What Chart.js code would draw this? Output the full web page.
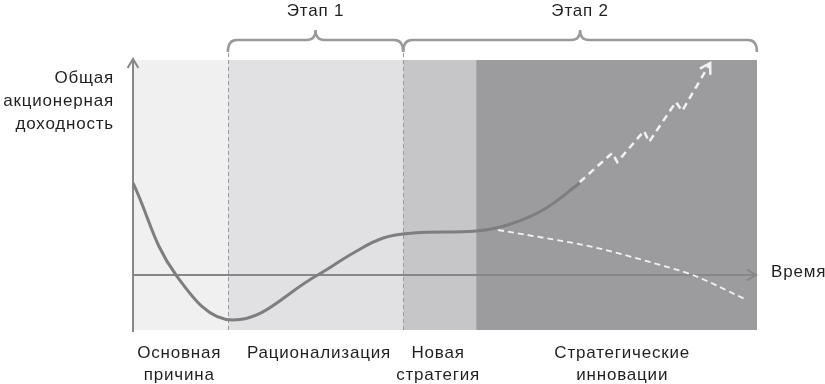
<!DOCTYPE html>
<html>
<head>
<meta charset="utf-8">
<script src="https://cdn.jsdelivr.net/npm/chart.js@4"></script>
<style>
  html, body { margin: 0; padding: 0; background: #fff; overflow: hidden; }
  #wrap { width: 825px; height: 384px; }
</style>
</head>
<body>
<div id="wrap"><canvas id="tsrChart" width="825" height="384"></canvas></div>
<script>
// Phases along the time axis (x in % of time span)
const bandEdges = [0, 15.2, 43.3, 55, 100];
const bandColors = ['#f0f0f0', '#e1e1e3', '#c6c6c8', '#9c9c9e'];
const phaseLabels = [['Основная', 'причина'], ['Рационализация'], ['Новая', 'стратегия'], ['Стратегические', 'инновации']];
const phaseLabelX = [7.4, 29.8, 48.9, 78.4];

const stages = ['Этап 1', 'Этап 2'];
const stageFrom = [15.2, 43.3];
const stageTo = [43.3, 100];

const yTitle = ['Общая', 'акционерная', 'доходность'];
const xTitle = 'Время';

// Total shareholder return curve
const mainX = [0, 6.9, 16.0, 29.6, 35.3, 40.1, 45, 55.0, 60, 65.7, 71.6];
const mainY = [9.2, 0, -4.5, 0, 2.2, 3.7, 4.2, 4.4, 5.0, 6.5, 9.2];

// Successful innovation (dashed, zigzag up)
const upX = [71.6, 76.8, 77.6, 81.9, 82.7, 87.0, 88.0, 92.5];
const upY = [9.3, 12.2, 11.3, 14.4, 13.3, 17.3, 16.4, 21.2];

// No innovation (dashed, declining)
const lowX = [58.5, 66, 73.7, 84.5, 89.7, 98.4];
const lowY = [4.5, 3.7, 2.8, 1.0, 0, -2.5];

const pts = (xs, ys) => xs.map((x, i) => ({ x, y: ys[i] }));

const FONT = '17px "Liberation Sans", Arial, sans-serif';
const TEXT = '#231f20';

const chevron = (ctx, x, y, angle, size) => {
    ctx.save();
    ctx.translate(x, y);
    ctx.rotate(angle);
    ctx.beginPath();
    ctx.moveTo(-size, -size * 0.6);
    ctx.lineTo(0, 0);
    ctx.lineTo(-size, size * 0.6);
    ctx.stroke();
    ctx.restore();
};

const decor = {
    id: 'decor',
    beforeDatasetsDraw(chart) {
        const { ctx, chartArea: a, scales: { x, y } } = chart;
        ctx.save();
        // bands
        for (let i = 0; i < bandColors.length; i++) {
            const x0 = x.getPixelForValue(bandEdges[i]);
            const x1 = x.getPixelForValue(bandEdges[i + 1]);
            ctx.fillStyle = bandColors[i];
            ctx.fillRect(x0, a.top, x1 - x0, a.bottom - a.top);
        }
        // dashed stage separators
        ctx.strokeStyle = '#9a9a9a';
        ctx.lineWidth = 1;
        ctx.setLineDash([4, 3]);
        [stageFrom[0], stageFrom[1]].forEach(v => {
            const px = Math.round(x.getPixelForValue(v)) + 0.5;
            ctx.beginPath();
            ctx.moveTo(px, a.top - 7);
            ctx.lineTo(px, a.bottom + 2);
            ctx.stroke();
        });
        ctx.setLineDash([]);
        // axes
        ctx.strokeStyle = '#878787';
        ctx.lineWidth = 2;
        const x0 = x.getPixelForValue(0);
        const y0 = y.getPixelForValue(0);
        ctx.beginPath();
        ctx.moveTo(x0, a.bottom + 2);
        ctx.lineTo(x0, a.top);
        ctx.stroke();
        chevron(ctx, x0, a.top - 1, -Math.PI / 2, 9);
        ctx.beginPath();
        ctx.moveTo(x0, y0);
        ctx.lineTo(a.right - 1, y0);
        ctx.stroke();
        chevron(ctx, a.right - 1, y0, 0, 9);
        // braces
        ctx.strokeStyle = '#9a9a9a';
        ctx.lineWidth = 2.5;
        const yb = a.top - 20, ye = a.top - 8, yt = a.top - 30;
        stages.forEach((s, i) => {
            const p1 = x.getPixelForValue(stageFrom[i]);
            const p2 = x.getPixelForValue(stageTo[i]);
            const pm = (p1 + p2) / 2;
            ctx.beginPath();
            ctx.moveTo(p1, ye);
            ctx.quadraticCurveTo(p1, yb, p1 + 9, yb);
            ctx.lineTo(pm - 9, yb);
            ctx.quadraticCurveTo(pm, yb, pm, yt);
            ctx.quadraticCurveTo(pm, yb, pm + 9, yb);
            ctx.lineTo(p2 - 9, yb);
            ctx.quadraticCurveTo(p2, yb, p2, ye);
            ctx.stroke();
        });
        ctx.restore();
    },
    afterDatasetsDraw(chart) {
        const { ctx, chartArea: a, scales: { x, y } } = chart;
        ctx.save();
        // arrowhead on the rising dashed line
        const n = upX.length;
        const tx = x.getPixelForValue(upX[n - 1]), ty = y.getPixelForValue(upY[n - 1]);
        const px = x.getPixelForValue(upX[n - 2]), py = y.getPixelForValue(upY[n - 2]);
        ctx.strokeStyle = '#f2f2f2';
        ctx.lineWidth = 2.5;
        chevron(ctx, tx, ty, Math.atan2(ty - py, tx - px), 10);

        // texts
        ctx.fillStyle = TEXT;
        ctx.font = FONT;
        ctx.letterSpacing = '0.8px';
        ctx.textBaseline = 'middle';
        ctx.textAlign = 'center';
        stages.forEach((s, i) => {
            const pm = (x.getPixelForValue(stageFrom[i]) + x.getPixelForValue(stageTo[i])) / 2;
            ctx.fillText(s, pm, 11);
        });
        phaseLabels.forEach((lines, i) => {
            const cx = x.getPixelForValue(phaseLabelX[i]);
            lines.forEach((t, j) => ctx.fillText(t, cx, a.bottom + 23 + j * 22));
        });
        ctx.textAlign = 'right';
        yTitle.forEach((t, j) => ctx.fillText(t, a.left - 19, a.top + 18 + j * 23));
        ctx.textAlign = 'left';
        ctx.fillText(xTitle, a.right + 14, y.getPixelForValue(0) - 3);
        ctx.restore();
    }
};

new Chart(document.getElementById('tsrChart'), {
    type: 'scatter',
    data: {
        datasets: [
            {
                data: pts(mainX, mainY),
                showLine: true,
                borderColor: '#7e7e7e',
                borderWidth: 3,
                tension: 0.4,
                pointRadius: 0
            },
            {
                data: pts(upX, upY),
                showLine: true,
                borderColor: '#f2f2f2',
                borderWidth: 2.5,
                borderDash: [7, 5],
                tension: 0,
                pointRadius: 0
            },
            {
                data: pts(lowX, lowY),
                showLine: true,
                borderColor: '#f2f2f2',
                borderWidth: 1.8,
                borderDash: [6, 4],
                cubicInterpolationMode: 'monotone',
                pointRadius: 0
            }
        ]
    },
    options: {
        responsive: false,
        animation: false,
        devicePixelRatio: 1,
        layout: { padding: { left: 133, right: 68, top: 60, bottom: 54 } },
        plugins: { legend: { display: false }, tooltip: { enabled: false } },
        scales: {
            x: { type: 'linear', min: 0, max: 100, display: false },
            y: { type: 'linear', min: -5.5, max: 21.5, display: false }
        }
    },
    plugins: [decor]
});
</script>
</body>
</html>
